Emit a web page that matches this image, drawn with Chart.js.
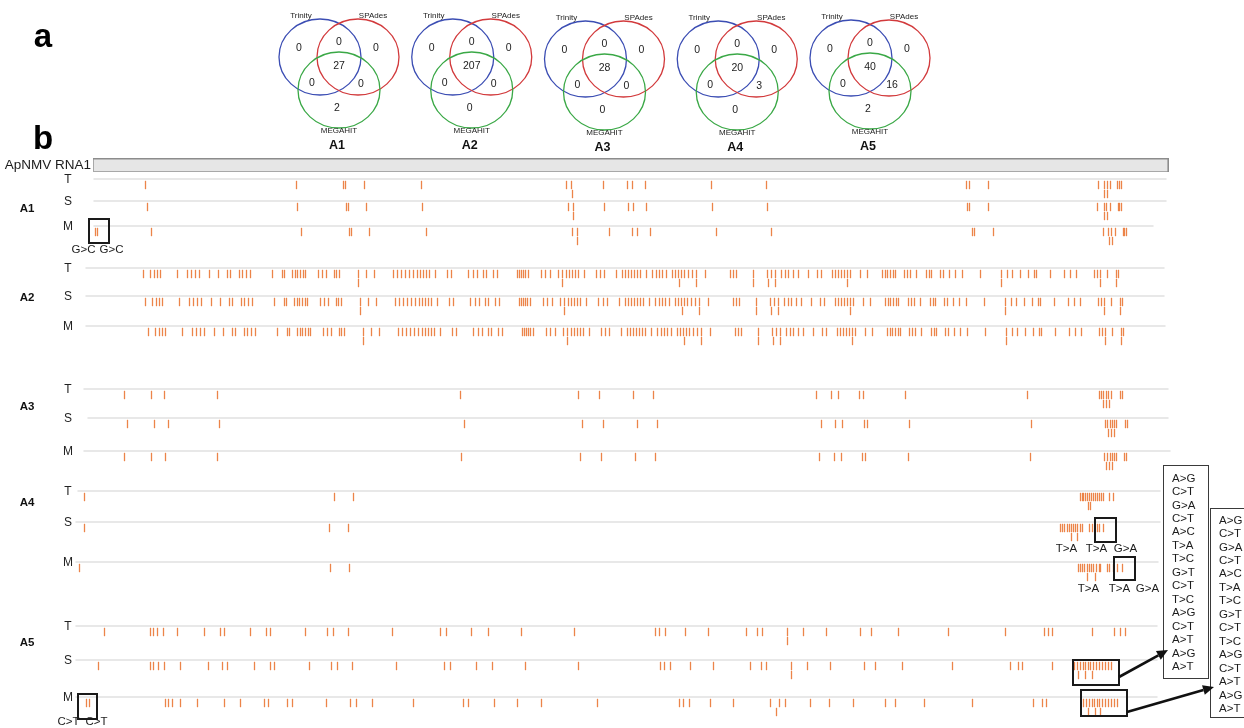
<!DOCTYPE html>
<html>
<head>
<meta charset="utf-8">
<script src="https://cdn.jsdelivr.net/npm/chart.js@4.4.1/dist/chart.umd.min.js"></script>
<style>
  html, body { margin: 0; padding: 0; background: #ffffff; }
  #wrap { width: 1244px; height: 728px; position: relative; }
  canvas { display: block; }
</style>
</head>
<body>
<div id="wrap"><canvas id="chart" width="1244" height="728"></canvas></div>
<script>
// ---------------------------------------------------------------------------
// Data
// ---------------------------------------------------------------------------
const GENOME_LABEL = 'ApNMV RNA1';
const REF_RANGE = [66, 3294];               // reference segment (nt, display coordinates)
const samples = ['A1', 'A2', 'A3', 'A4', 'A5'];
const assemblers = ['T', 'S', 'M'];
const vennSetNames = ['Trinity', 'SPAdes', 'MEGAHIT'];

// Venn region counts: [Trinity only, SPAdes only, MEGAHIT only, T∩S, T∩M, S∩M, all three]
const vennA1 = [0, 0, 2, 0, 0, 0, 27];
const vennA2 = [0, 0, 0, 0, 0, 0, 207];
const vennA3 = [0, 0, 0, 0, 0, 0, 28];
const vennA4 = [0, 0, 0, 0, 0, 3, 20];
const vennA5 = [0, 0, 2, 0, 0, 16, 40];

// SNV positions (nt). "_dup" = second variant called at the same site (stacked tick)
const A1_T = [225, 678, 819, 825, 882, 1053, 1488, 1503, 1599, 1671, 1686, 1725, 1923, 2088, 2688, 2697, 2754, 3084, 3102, 3111, 3120, 3141, 3147, 3153];
const A1_T_dup = [1506, 3102, 3111];
const A1_S = [231, 681, 828, 834, 888, 1056, 1494, 1509, 1602, 1674, 1689, 1728, 1926, 2091, 2691, 2697, 2754, 3081, 3102, 3108, 3120, 3144, 3147, 3153];
const A1_S_dup = [1509, 3102, 3111];
const A1_M = [75, 81, 243, 693, 837, 843, 897, 1068, 1506, 1521, 1617, 1686, 1701, 1740, 1938, 2103, 2706, 2712, 2769, 3099, 3114, 3123, 3135, 3159, 3162, 3168];
const A1_M_dup = [1521, 3117, 3126];

const A2_T = [219, 240, 252, 261, 270, 321, 351, 363, 375, 387, 417, 444, 471, 480, 507, 516, 528, 540, 606, 636, 642, 666, 675, 681, 690, 699, 705, 744, 756, 768, 792, 798, 807, 864, 888, 912, 969, 981, 993, 1005, 1017, 1029, 1041, 1050, 1059, 1068, 1077, 1095, 1131, 1143, 1194, 1209, 1221, 1239, 1248, 1269, 1281, 1341, 1347, 1353, 1359, 1365, 1374, 1413, 1425, 1440, 1464, 1476, 1488, 1497, 1506, 1515, 1524, 1542, 1578, 1590, 1602, 1638, 1656, 1665, 1674, 1683, 1692, 1701, 1710, 1728, 1746, 1758, 1767, 1776, 1788, 1806, 1815, 1824, 1833, 1842, 1854, 1866, 1878, 1905, 1980, 1989, 1998, 2049, 2091, 2103, 2115, 2133, 2145, 2154, 2169, 2184, 2214, 2241, 2253, 2286, 2295, 2304, 2313, 2322, 2331, 2340, 2370, 2391, 2436, 2445, 2451, 2460, 2469, 2475, 2502, 2511, 2520, 2538, 2568, 2577, 2583, 2610, 2619, 2637, 2655, 2676, 2730, 2793, 2811, 2826, 2850, 2874, 2892, 2898, 2940, 2982, 3000, 3018, 3072, 3081, 3090, 3111, 3138, 3144];
const A2_T_dup = [864, 1476, 1827, 1878, 2049, 2094, 2115, 2331, 2793, 3090, 3138];
const A2_S = [225, 246, 258, 267, 276, 327, 357, 369, 381, 393, 423, 450, 477, 486, 513, 522, 534, 546, 612, 642, 648, 672, 681, 687, 696, 705, 711, 750, 762, 774, 798, 804, 813, 870, 894, 918, 975, 987, 999, 1011, 1023, 1035, 1047, 1056, 1065, 1074, 1083, 1101, 1137, 1149, 1200, 1215, 1227, 1245, 1254, 1275, 1287, 1347, 1353, 1359, 1365, 1371, 1380, 1419, 1431, 1446, 1470, 1482, 1494, 1503, 1512, 1521, 1530, 1548, 1584, 1599, 1611, 1647, 1665, 1674, 1683, 1692, 1701, 1710, 1719, 1737, 1755, 1767, 1776, 1785, 1797, 1815, 1824, 1833, 1842, 1851, 1863, 1875, 1887, 1914, 1989, 1998, 2007, 2058, 2100, 2112, 2124, 2142, 2154, 2163, 2178, 2193, 2223, 2250, 2262, 2295, 2304, 2313, 2322, 2331, 2340, 2349, 2379, 2400, 2445, 2454, 2460, 2469, 2478, 2484, 2514, 2523, 2532, 2550, 2580, 2589, 2595, 2622, 2631, 2649, 2667, 2688, 2742, 2805, 2823, 2838, 2862, 2886, 2904, 2910, 2952, 2994, 3012, 3030, 3084, 3093, 3102, 3123, 3150, 3156];
const A2_S_dup = [870, 1482, 1836, 1887, 2058, 2103, 2124, 2340, 2805, 3102, 3150];
const A2_M = [234, 255, 267, 276, 285, 336, 366, 378, 390, 402, 432, 459, 486, 495, 522, 531, 543, 555, 621, 651, 657, 681, 690, 696, 705, 714, 720, 759, 771, 783, 807, 813, 822, 879, 903, 927, 984, 996, 1008, 1020, 1032, 1044, 1056, 1065, 1074, 1083, 1092, 1110, 1146, 1158, 1209, 1224, 1236, 1254, 1263, 1284, 1296, 1356, 1362, 1368, 1374, 1380, 1389, 1428, 1440, 1455, 1479, 1491, 1503, 1512, 1521, 1530, 1539, 1557, 1593, 1605, 1617, 1653, 1671, 1680, 1689, 1698, 1707, 1716, 1725, 1743, 1761, 1773, 1782, 1791, 1803, 1821, 1830, 1839, 1848, 1857, 1869, 1881, 1893, 1920, 1995, 2004, 2013, 2064, 2106, 2118, 2130, 2148, 2160, 2169, 2184, 2199, 2229, 2256, 2268, 2301, 2310, 2319, 2328, 2337, 2346, 2355, 2385, 2406, 2451, 2460, 2466, 2475, 2484, 2490, 2517, 2526, 2535, 2553, 2583, 2592, 2598, 2625, 2634, 2652, 2670, 2691, 2745, 2808, 2826, 2841, 2865, 2889, 2907, 2913, 2955, 2997, 3015, 3033, 3087, 3096, 3105, 3126, 3153, 3159];
const A2_M_dup = [879, 1491, 1842, 1893, 2064, 2109, 2130, 2346, 2808, 3105, 3153];

const A3_T = [162, 243, 282, 441, 1170, 1524, 1587, 1689, 1749, 2238, 2283, 2304, 2367, 2379, 2505, 2871, 3087, 3093, 3099, 3108, 3114, 3123, 3150, 3156];
const A3_T_dup = [3099, 3108, 3117];
const A3_S = [171, 252, 294, 447, 1182, 1536, 1599, 1701, 1761, 2253, 2295, 2316, 2382, 2391, 2517, 2883, 3105, 3111, 3120, 3126, 3132, 3138, 3165, 3171];
const A3_S_dup = [3114, 3123, 3132];
const A3_M = [162, 243, 285, 441, 1173, 1530, 1593, 1695, 1755, 2247, 2292, 2313, 2376, 2385, 2514, 2880, 3102, 3111, 3120, 3126, 3132, 3138, 3162, 3168];
const A3_M_dup = [3108, 3117, 3126];

const A4_T = [42, 792, 849, 3030, 3036, 3039, 3045, 3051, 3057, 3063, 3069, 3075, 3081, 3087, 3093, 3099, 3117, 3129];
const A4_T_dup = [3054, 3060];
const A4_S = [42, 777, 834, 2970, 2976, 2982, 2991, 2997, 3003, 3009, 3015, 3021, 3030, 3036, 3057, 3066, 3081, 3087, 3099];
const A4_S_dup = [3003, 3021];
const A4_M = [27, 780, 837, 3024, 3030, 3036, 3042, 3051, 3057, 3063, 3069, 3078, 3087, 3090, 3111, 3117, 3129, 3141, 3156];
const A4_M_dup = [3051, 3075];

const A5_T = [102, 240, 249, 261, 279, 321, 402, 450, 462, 540, 588, 600, 705, 771, 789, 834, 966, 1110, 1128, 1203, 1254, 1353, 1512, 1755, 1767, 1785, 1845, 1914, 2028, 2061, 2076, 2151, 2199, 2268, 2370, 2403, 2484, 2634, 2805, 2922, 2934, 2946, 3066, 3132, 3150, 3165];
const A5_T_dup = [2151];
const A5_S = [84, 240, 249, 264, 282, 330, 414, 456, 471, 552, 600, 612, 717, 783, 801, 846, 978, 1122, 1140, 1218, 1266, 1365, 1524, 1770, 1782, 1800, 1860, 1929, 2040, 2073, 2088, 2163, 2211, 2280, 2382, 2415, 2496, 2646, 2820, 2844, 2856, 2946, 3012, 3021, 3030, 3039, 3045, 3054, 3060, 3069, 3078, 3087, 3096, 3105, 3114, 3123];
const A5_S_dup = [2163, 3024, 3045, 3066];
const A5_M = [48, 57, 285, 294, 306, 330, 381, 462, 510, 582, 594, 651, 666, 768, 840, 858, 906, 1029, 1179, 1194, 1272, 1341, 1413, 1581, 1827, 1839, 1857, 1920, 1989, 2100, 2127, 2145, 2220, 2277, 2349, 2445, 2475, 2562, 2706, 2889, 2916, 2928, 3039, 3048, 3057, 3066, 3072, 3081, 3087, 3096, 3105, 3114, 3123, 3132, 3141];
const A5_M_dup = [2118, 3054, 3075, 3090];

// Substitutions listed for the boxed clusters
const subsA5_S = ['A>G', 'C>T', 'G>A', 'C>T', 'A>C', 'T>A', 'T>C', 'G>T', 'C>T', 'T>C', 'A>G', 'C>T', 'A>T', 'A>G', 'A>T'];
const subsA5_M = ['A>G', 'C>T', 'G>A', 'C>T', 'A>C', 'T>A', 'T>C', 'G>T', 'C>T', 'T>C', 'A>G', 'C>T', 'A>T', 'A>G', 'A>T'];

// Highlighted sites: sample, row, nt span of the box, labels (nt, text)
const highlights = [
  { sample: 'A1', row: 2, span: [54, 114], top: -7, bottom: 17, labels: [[39, 'G>C'], [123, 'G>C']], labelDy: 24 },
  { sample: 'A4', row: 1, span: [3072, 3135], top: -4, bottom: 20, labels: [[2988, 'T>A'], [3078, 'T>A'], [3165, 'G>A']], labelDy: 27 },
  { sample: 'A4', row: 2, span: [3129, 3192], top: -5, bottom: 18, labels: [[3054, 'T>A'], [3147, 'T>A'], [3231, 'G>A']], labelDy: 27 },
  { sample: 'A5', row: 1, span: [3006, 3144], top: 0, bottom: 25, labels: [] },
  { sample: 'A5', row: 2, span: [3030, 3168], top: -7, bottom: 19, labels: [] },
  { sample: 'A5', row: 2, span: [21, 81], top: -3, bottom: 22, labels: [[-6, 'C>T'], [78, 'C>T']], labelDy: 25 }
];

// ---------------------------------------------------------------------------
// Layout
// ---------------------------------------------------------------------------
const W = 1244, H = 728;
const FONT = "'Liberation Sans', Arial, Helvetica, sans-serif";
const ROW_Y = { A1: [179, 201, 226], A2: [268, 296, 326], A3: [389, 418, 451], A4: [491, 522, 562], A5: [626, 660, 697] };
const GROUP_LABEL_Y = { A1: 209, A2: 298, A3: 407, A4: 503, A5: 643 };
const ROW_SPAN = {
  A1: [[69, 3288], [69, 3288], [69, 3249]],
  A2: [[45, 3282], [45, 3282], [45, 3285]],
  A3: [[39, 3294], [51, 3294], [39, 3300]],
  A4: [[21, 3270], [15, 3270], [15, 3264]],
  A5: [[15, 3261], [15, 3261], [15, 3261]]
};
const TICK_DY = 6, DUP_DY = 15;
const NT_PER_PX = 3, NT_ORIGIN_PX = 70.5;        // horizontal mapping of the track axis (half-pixel for crisp ticks)
const VENN_CX0 = 339, VENN_STEP = 132.75;         // Venn diagram centres along their own axis
const VENN_DY = [0, 0, 2, 2, 1];

const TRACKS = {
  A1: { T: [A1_T, A1_T_dup], S: [A1_S, A1_S_dup], M: [A1_M, A1_M_dup] },
  A2: { T: [A2_T, A2_T_dup], S: [A2_S, A2_S_dup], M: [A2_M, A2_M_dup] },
  A3: { T: [A3_T, A3_T_dup], S: [A3_S, A3_S_dup], M: [A3_M, A3_M_dup] },
  A4: { T: [A4_T, A4_T_dup], S: [A4_S, A4_S_dup], M: [A4_M, A4_M_dup] },
  A5: { T: [A5_T, A5_T_dup], S: [A5_S, A5_S_dup], M: [A5_M, A5_M_dup] }
};
const VENN = { A1: vennA1, A2: vennA2, A3: vennA3, A4: vennA4, A5: vennA5 };

const TICK_COLOR = 'rgba(234, 122, 58, 0.92)';
const tickStyle = {
  pointStyle: 'line', rotation: 90, radius: 4.2, hoverRadius: 4.2,
  borderColor: TICK_COLOR, backgroundColor: TICK_COLOR, borderWidth: 1.3,
  showLine: false, clip: false, xAxisID: 'x', yAxisID: 'y'
};

const datasets = [];
samples.forEach(s => {
  assemblers.forEach((a, k) => {
    const [pos, dup] = TRACKS[s][a];
    const y = ROW_Y[s][k];
    datasets.push(Object.assign({ label: s + ' ' + a, data: pos.map(p => ({ x: p, y: y + TICK_DY })) }, tickStyle));
    datasets.push(Object.assign({ label: s + ' ' + a + ' (stacked)', data: dup.map(p => ({ x: p, y: y + DUP_DY })) }, tickStyle));
  });
});

// ---------------------------------------------------------------------------
// Drawing helpers
// ---------------------------------------------------------------------------
function text(ctx, str, x, y, font, align, color) {
  ctx.font = font;
  ctx.textAlign = align || 'center';
  ctx.textBaseline = 'middle';
  ctx.fillStyle = color || '#1c1c1c';
  ctx.fillText(str, x, y);
}

function arrow(ctx, x0, y0, x1, y1) {
  const ang = Math.atan2(y1 - y0, x1 - x0);
  const head = 11, half = 5;
  const bx = x1 - head * Math.cos(ang), by = y1 - head * Math.sin(ang);
  ctx.strokeStyle = '#111';
  ctx.lineWidth = 2.6;
  ctx.beginPath();
  ctx.moveTo(x0, y0);
  ctx.lineTo(bx, by);
  ctx.stroke();
  ctx.fillStyle = '#111';
  ctx.beginPath();
  ctx.moveTo(x1, y1);
  ctx.lineTo(bx + half * Math.sin(ang), by - half * Math.cos(ang));
  ctx.lineTo(bx - half * Math.sin(ang), by + half * Math.cos(ang));
  ctx.closePath();
  ctx.fill();
}

function listBox(ctx, items, x0, y0, x1, y1, firstY, step, textX) {
  ctx.strokeStyle = '#3a3a3a';
  ctx.lineWidth = 1;
  ctx.strokeRect(x0 + 0.5, y0 + 0.5, x1 - x0, y1 - y0);
  items.forEach((t, i) => text(ctx, t, textX, firstY + i * step, '11.5px ' + FONT, 'left', '#1c1c1c'));
}

const figurePlugin = {
  id: 'figureLayers',
  beforeDatasetsDraw(chart) {
    const ctx = chart.ctx;
    const xs = chart.scales.x, ys = chart.scales.y;
    ctx.save();

    // panel letters
    text(ctx, 'a', 43, 38, 'bold 33px ' + FONT, 'center', '#000');
    text(ctx, 'b', 43, 140, 'bold 33px ' + FONT, 'center', '#000');

    // reference genome bar
    const gx0 = Math.round(xs.getPixelForValue(REF_RANGE[0])), gx1 = Math.round(xs.getPixelForValue(REF_RANGE[1]));
    const gy0 = ys.getPixelForValue(158), gy1 = ys.getPixelForValue(172);
    ctx.fillStyle = '#e6e6e6';
    ctx.fillRect(gx0, gy0, gx1 - gx0, gy1 - gy0);
    ctx.strokeStyle = '#a8a8a8';
    ctx.lineWidth = 1;
    ctx.strokeRect(gx0 + 0.5, gy0 + 0.5, gx1 - gx0 - 1, gy1 - gy0 - 1);
    ctx.strokeStyle = '#8c8c8c';
    ctx.lineWidth = 1.6;
    ctx.beginPath(); ctx.moveTo(gx0, gy0 + 0.8); ctx.lineTo(gx1, gy0 + 0.8); ctx.stroke();
    ctx.beginPath(); ctx.moveTo(gx1 - 0.8, gy0); ctx.lineTo(gx1 - 0.8, gy1); ctx.stroke();
    text(ctx, GENOME_LABEL, gx0 - 2, (gy0 + gy1) / 2, '13.5px ' + FONT, 'right', '#1c1c1c');

    // track baselines and labels
    samples.forEach(s => {
      text(ctx, s, 27, ys.getPixelForValue(GROUP_LABEL_Y[s]), 'bold 11.5px ' + FONT, 'center', '#111');
      assemblers.forEach((a, k) => {
        const y = ys.getPixelForValue(ROW_Y[s][k]);
        const [a0, a1] = ROW_SPAN[s][k];
        ctx.strokeStyle = '#e0e0e0';
        ctx.lineWidth = 1.6;
        ctx.beginPath();
        ctx.moveTo(xs.getPixelForValue(a0), y);
        ctx.lineTo(xs.getPixelForValue(a1), y);
        ctx.stroke();
        text(ctx, a, 68, y + 1, '12px ' + FONT, 'center', '#222');
      });
    });
    ctx.restore();
  },
  afterDatasetsDraw(chart) {
    const ctx = chart.ctx;
    const xs = chart.scales.x, ys = chart.scales.y, xv = chart.scales.xv;
    ctx.save();

    // highlighted sites
    const boxPx = {};
    highlights.forEach((h, i) => {
      const base = ROW_Y[h.sample][h.row];
      const x0 = Math.round(xs.getPixelForValue(h.span[0])), x1 = Math.round(xs.getPixelForValue(h.span[1]));
      const y0 = ys.getPixelForValue(base + h.top), y1 = ys.getPixelForValue(base + h.bottom);
      ctx.strokeStyle = '#1a1a1a';
      ctx.lineWidth = 2;
      ctx.strokeRect(x0, y0, x1 - x0, y1 - y0);
      h.labels.forEach(([p, t]) => text(ctx, t, xs.getPixelForValue(p), ys.getPixelForValue(base + h.labelDy), '11.5px ' + FONT, 'center', '#1c1c1c'));
      boxPx[i] = { x0, x1, y0, y1 };
    });

    // substitution lists for the A5 clusters
    listBox(ctx, subsA5_S, 1163, 465, 1208, 678, 478.5, 13.45, 1172);
    listBox(ctx, subsA5_M, 1210, 508, 1252, 717, 520.5, 13.45, 1219);
    const bs = boxPx[3], bm = boxPx[4];
    arrow(ctx, bs.x1, bs.y1 - 8, 1168, 650);
    arrow(ctx, bm.x1, bm.y1 - 4, 1214, 687);

    // Venn diagrams
    const colors = ['#3b4db3', '#d23a3c', '#3aa846'];
    samples.forEach((s, i) => {
      const cx = xv.getPixelForValue(i);
      const dy = VENN_DY[i];
      const circles = [[cx - 19, 57 + dy], [cx + 19, 57 + dy], [cx, 90 + dy]];
      circles.forEach(([ex, ey], k) => {
        ctx.strokeStyle = colors[k];
        ctx.lineWidth = 1.3;
        ctx.beginPath();
        ctx.ellipse(ex, ey, 41, 38, 0, 0, Math.PI * 2);
        ctx.stroke();
      });
      const slots = [[-40, 48], [37, 48], [-2, 108], [0, 42], [-27, 83], [22, 84], [0, 66]];
      VENN[s].forEach((v, k) => {
        text(ctx, String(v), cx + slots[k][0], slots[k][1] + dy, '10.5px ' + FONT, 'center', '#1c1c1c');
      });
      text(ctx, vennSetNames[0], cx - 38, 16 + dy, '8px ' + FONT, 'center', '#1c1c1c');
      text(ctx, vennSetNames[1], cx + 34, 16 + dy, '8px ' + FONT, 'center', '#1c1c1c');
      text(ctx, vennSetNames[2], cx, 131 + dy, '8px ' + FONT, 'center', '#1c1c1c');
      text(ctx, s, cx - 2, 146 + dy, 'bold 12.5px ' + FONT, 'center', '#111');
    });
    ctx.restore();
  }
};

new Chart(document.getElementById('chart'), {
  type: 'scatter',
  data: {
    datasets: datasets.concat([{ label: 'venn-axis', data: [], xAxisID: 'xv', yAxisID: 'y' }])
  },
  options: {
    responsive: false,
    devicePixelRatio: 1,
    animation: false,
    events: [],
    layout: { padding: 0, autoPadding: false },
    plugins: { legend: { display: false }, tooltip: { enabled: false } },
    scales: {
      x: { type: 'linear', display: false, min: -NT_ORIGIN_PX * NT_PER_PX, max: (W - NT_ORIGIN_PX) * NT_PER_PX },
      xv: { type: 'linear', display: false, min: -VENN_CX0 / VENN_STEP, max: (W - VENN_CX0) / VENN_STEP },
      y: { type: 'linear', display: false, min: 0, max: H, reverse: true }
    }
  },
  plugins: [figurePlugin]
});
</script>
</body>
</html>
